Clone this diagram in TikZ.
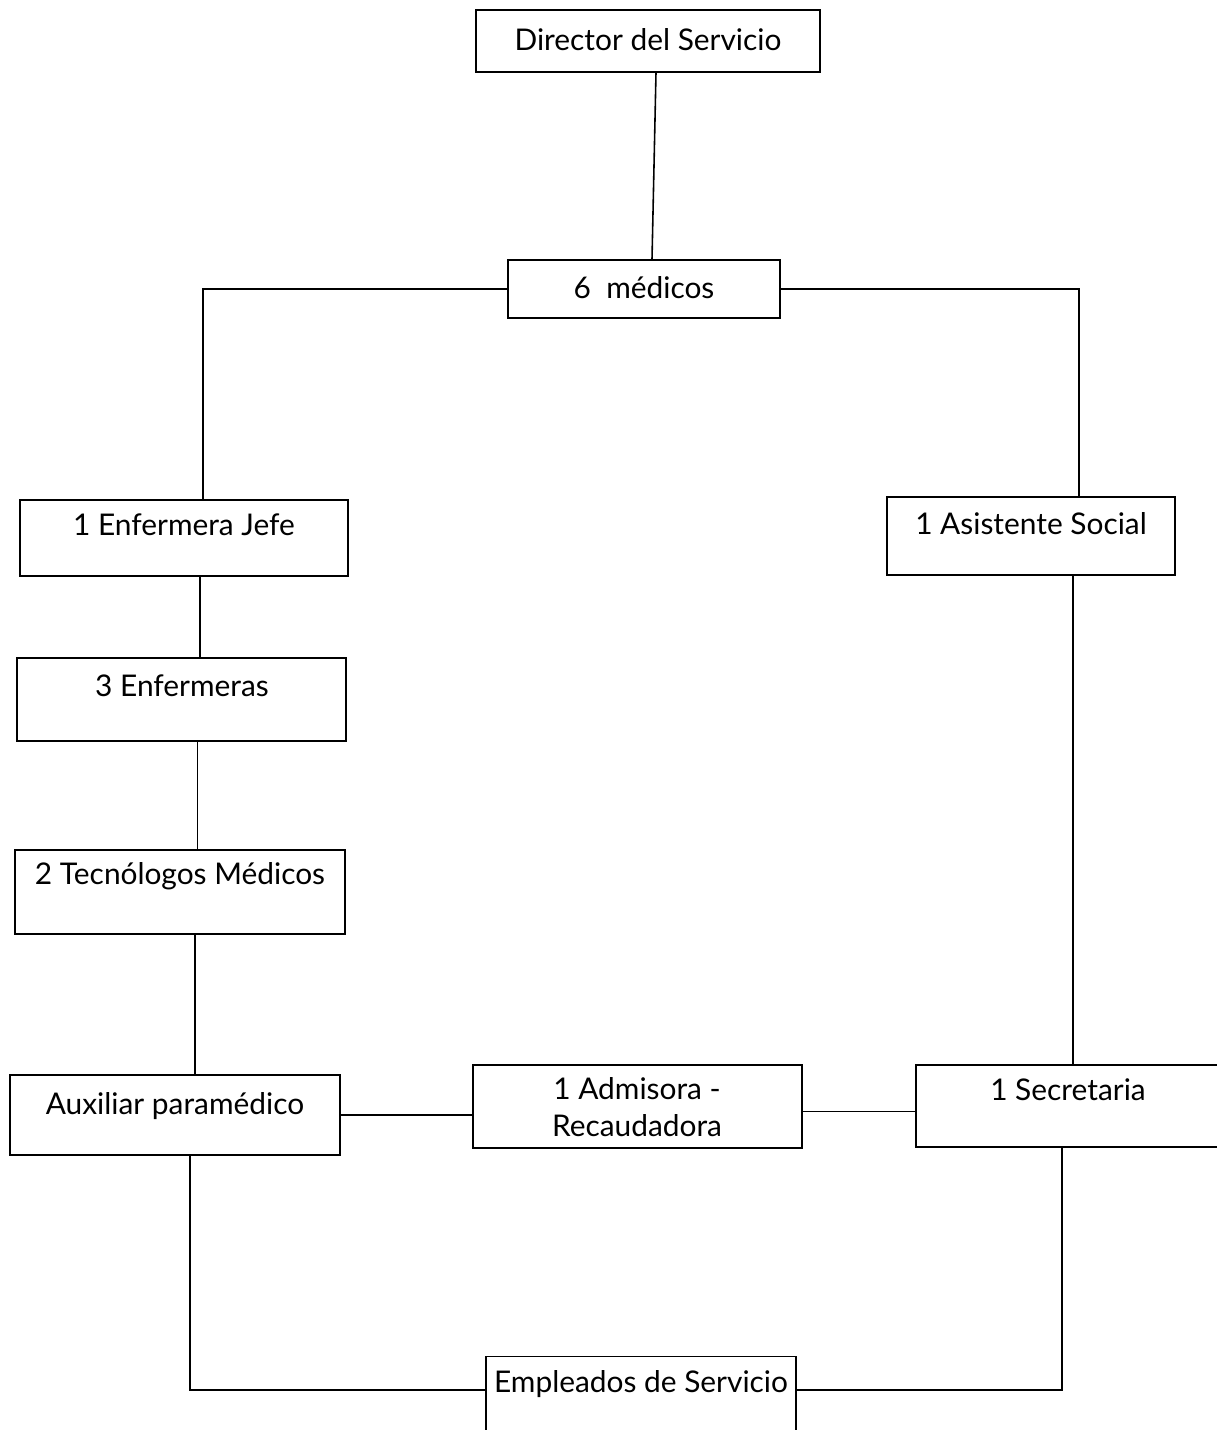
\documentclass[tikz,border=0pt]{standalone}
\usepackage{fontspec}
\setmainfont{Lato}
\usetikzlibrary{positioning}

\tikzset{
  box/.style={draw, line width=0.9pt, inner sep=0pt},
  lbl/.style={font=\fontsize{17}{20}\selectfont, align=center, inner sep=0pt},
  wire/.style={line width=0.9pt}
}

\begin{document}
\begin{tikzpicture}[x=0.02cm, y=-0.02cm]
\useasboundingbox (0,0) rectangle (1217,1430);

% boxes (pixel coordinates of the sheet)
\node[box, minimum width=6.88cm, minimum height=1.24cm] (dir)  at (648,41)     {};
\node[box, minimum width=5.44cm, minimum height=1.16cm] (med)  at (644,289)    {};
\node[box, minimum width=6.56cm, minimum height=1.52cm] (jefe) at (184,538)    {};
\node[box, minimum width=5.76cm, minimum height=1.56cm] (asis) at (1031,536)   {};
\node[box, minimum width=6.58cm, minimum height=1.66cm] (enf)  at (181.5,699.5) {};
\node[box, minimum width=6.60cm, minimum height=1.68cm] (tec)  at (180,892)    {};
\node[box, minimum width=6.60cm, minimum height=1.60cm] (aux)  at (175,1115)   {};
\node[box, minimum width=6.58cm, minimum height=1.66cm] (adm)  at (637.5,1106.5) {};
\node[box, minimum width=6.28cm, minimum height=1.64cm] (sec)  at (1073,1106)  {};
\node[box, minimum width=6.20cm, minimum height=1.66cm] (emp)  at (641,1398)   {};

% texts
\node[lbl] (dir-t)  at (648,40)   {Director del Servicio};
\node[lbl] (med-t)  at (644,288)  {6~~médicos};
\node[lbl] (jefe-t) at (184,525)  {1 Enfermera Jefe};
\node[lbl] (asis-t) at (1031,524) {1 Asistente Social};
\node[lbl] (enf-t)  at (182,686)  {3 Enfermeras};
\node[lbl] (tec-t)  at (180,876)  {2 Tecnólogos Médicos};
\node[lbl] (aux-t)  at (175,1106) {Auxiliar paramédico};
\node[lbl] (adm-t)  at (637,1107) {1 Admisora -\\[0.05cm]Recaudadora};
\node[lbl] (sec-t)  at (1068,1090) {1 Secretaria};
\node[lbl] (emp-t)  at (641,1384) {Empleados de Servicio};

% connectors
\draw[wire] ([xshift=0.16cm]dir.south) -- ([xshift=0.16cm]med.north);
\draw[wire] (med.west) -| ([xshift=0.38cm]jefe.north);
\draw[wire] (med.east) -| ([xshift=0.96cm]asis.north);
\draw[wire] ([xshift=0.32cm]jefe.south) -- ([xshift=0.32cm]jefe.south |- enf.north);
\draw[wire] ([xshift=0.32cm]enf.south) -- ([xshift=0.32cm]enf.south |- tec.north);
\draw[wire] ([xshift=0.30cm]tec.south) -- ([xshift=0.30cm]tec.south |- aux.north);
\draw[wire] ([xshift=0.84cm]asis.south) -- ([xshift=0.84cm]asis.south |- sec.north);
\draw[wire] (aux.east) -- (aux.east -| adm.west);
\draw[wire] ([yshift=-0.1cm]adm.east) -- ([yshift=-0.1cm]adm.east -| sec.west);
\draw[wire] ([xshift=0.30cm]aux.south) |- ([yshift=0.16cm]emp.west);
\draw[wire] ([xshift=-0.22cm]sec.south) |- ([yshift=0.16cm]emp.east);
\end{tikzpicture}
\end{document}
